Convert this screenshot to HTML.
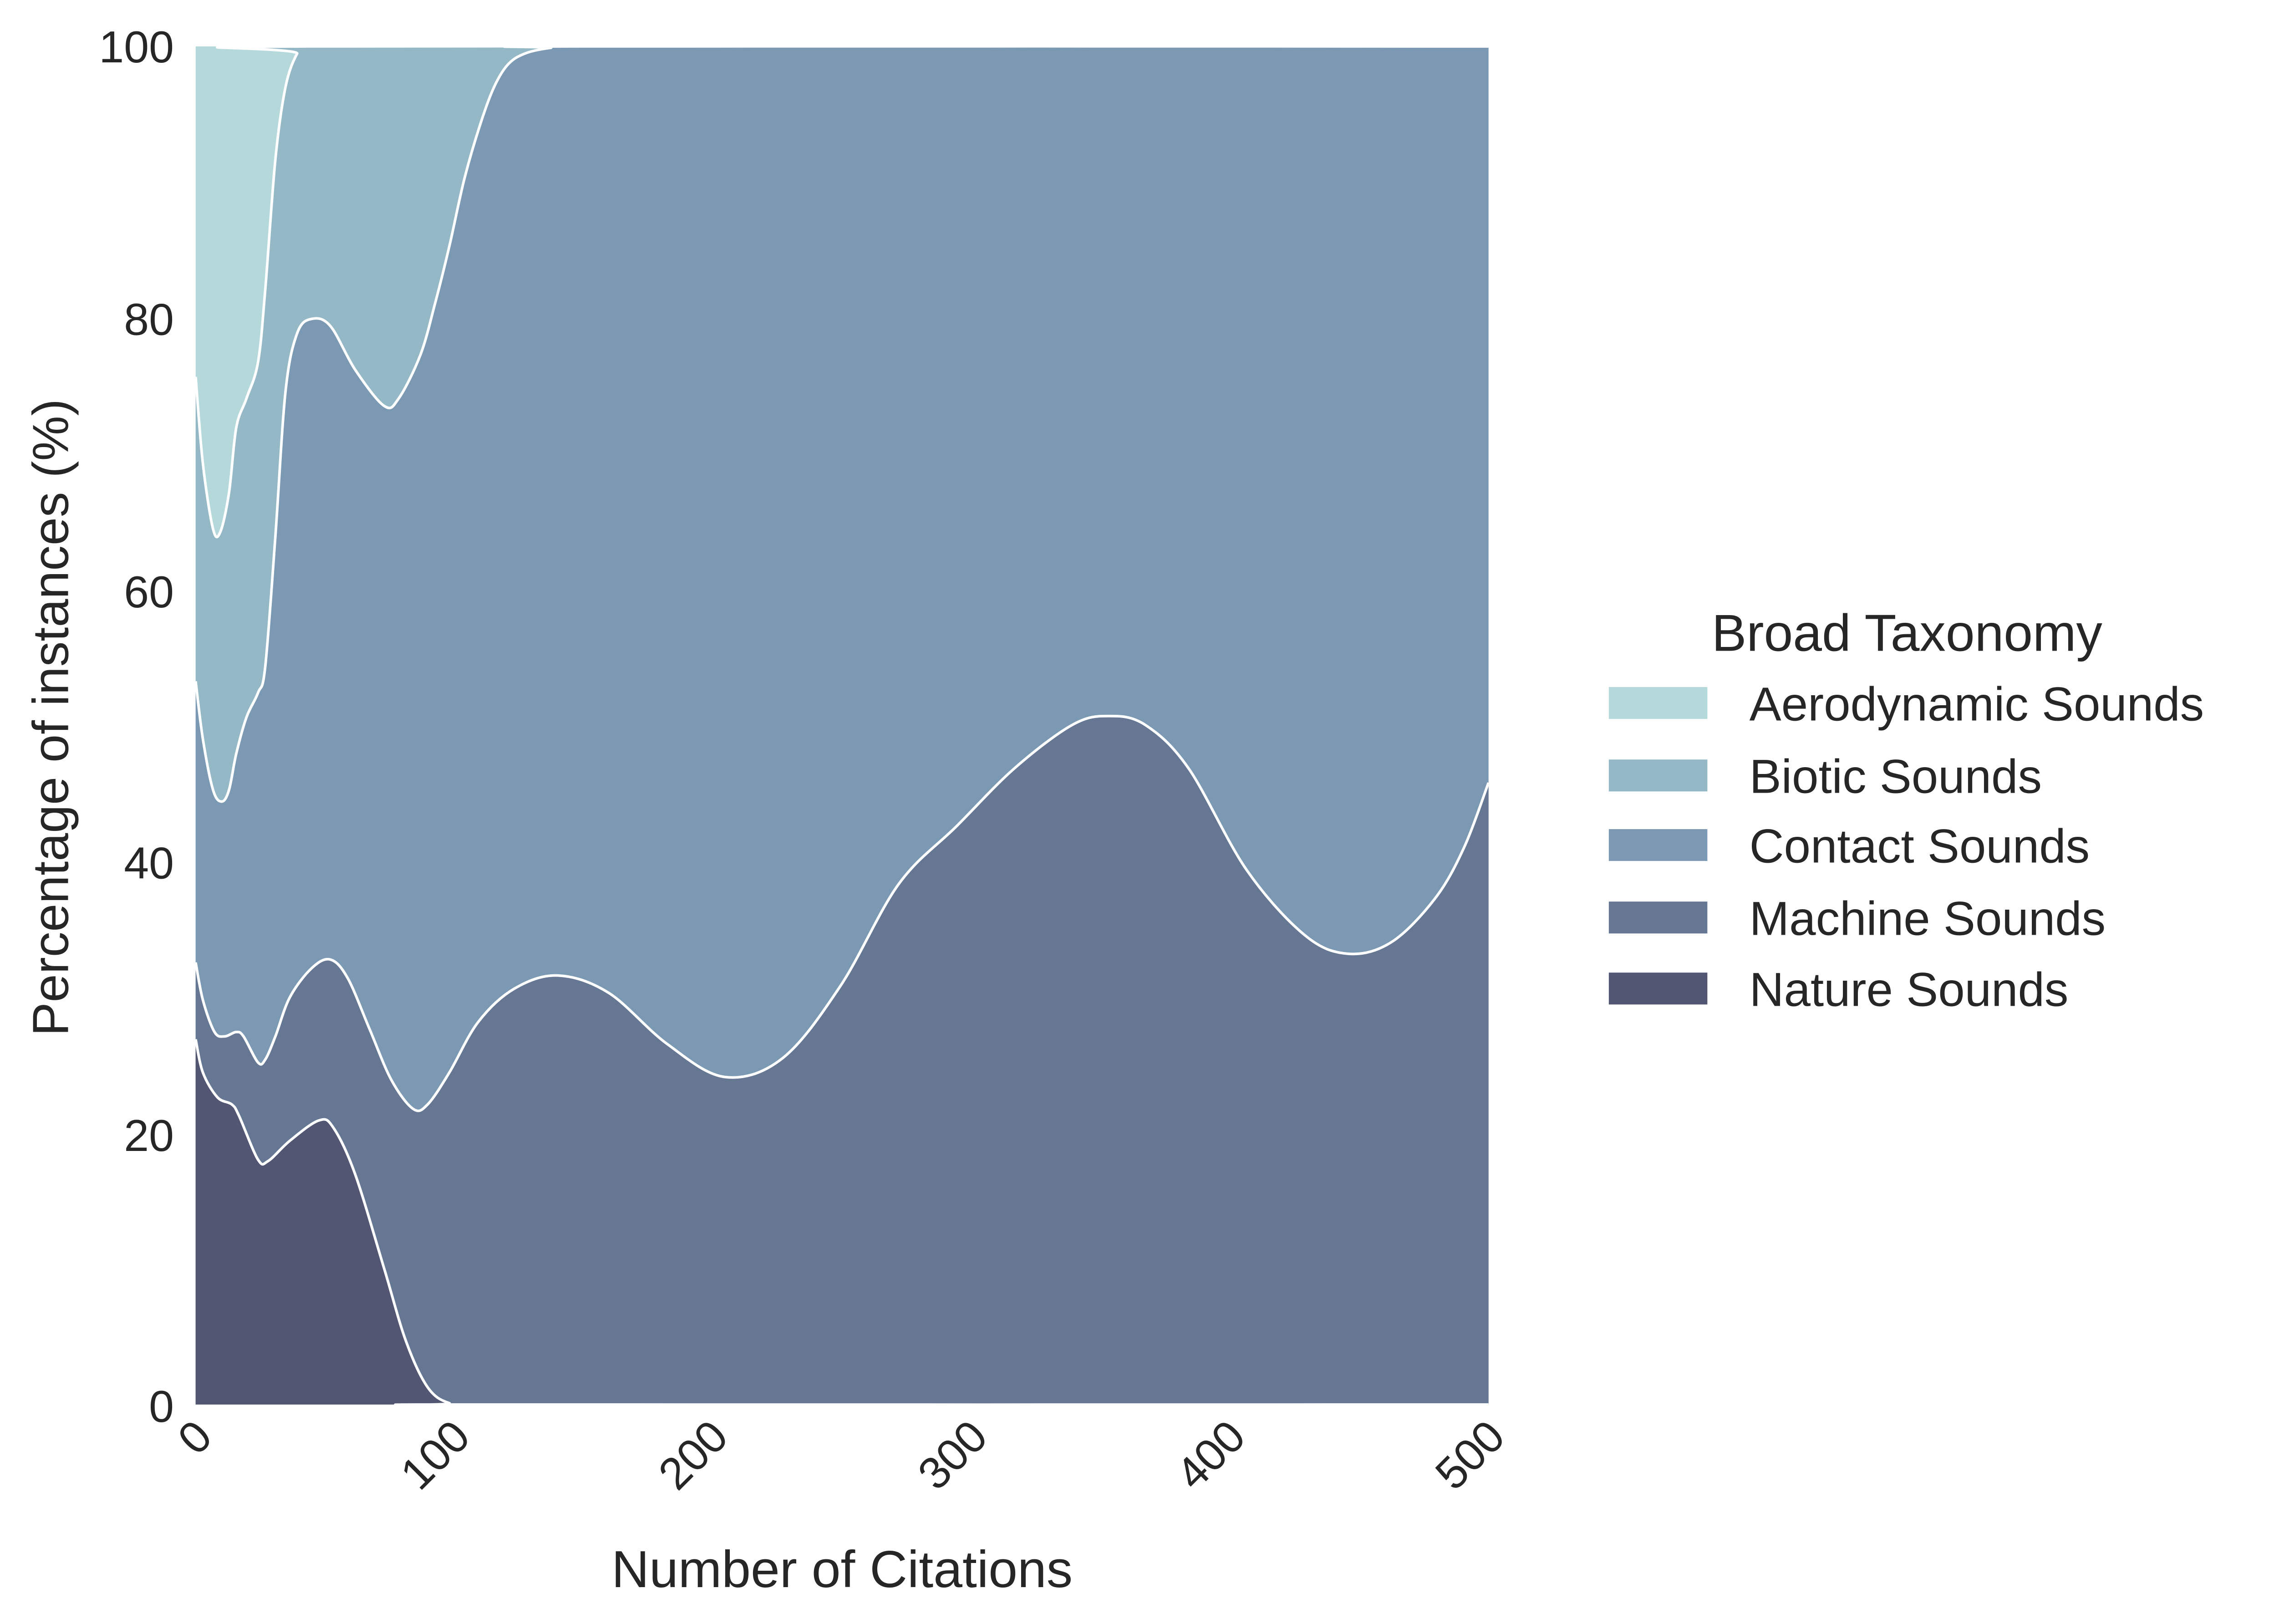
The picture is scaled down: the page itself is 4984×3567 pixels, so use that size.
<!DOCTYPE html>
<html><head><meta charset="utf-8"><style>html,body{margin:0;padding:0;background:#fff}svg{display:block}</style></head>
<body>
<svg id="s" width="4984" height="3567" viewBox="0 0 1565.5 1120.4" xmlns="http://www.w3.org/2000/svg" font-family="Liberation Sans, DejaVu Sans, sans-serif">
<rect width="1570" height="1125" fill="#fff"/>
<rect x="135" y="32" width="892" height="937" fill="#b5d8da"/>
<g stroke="#fff" stroke-width="1.8" stroke-linejoin="round" id="areas">
<path fill="#95b8c7" data-p="135,260 140,320 147,365 152,367 158,340 163,295 170,275 178,250 183,200 190,110 197,60 205,37 212,32 1027,32"/>
<path fill="#7b99b2" data-p="135,470 140,510 147,545 153,553 158,545 163,520 170,495 178,478 183,460 190,370 197,270 205,230 215,220 228,225 245,255 265,280 275,275 290,245 300,210 310,170 320,125 330,90 340,62 350,45 362,37 380,33 400,32 1027,32"/>
<path fill="#667793" data-p="135,664 140,690 148,712 155,715 163,712 168,715 178,733 183,731 190,715 200,688 215,668 228,662 240,675 255,710 270,745 285,765 295,762 310,740 330,705 355,682 385,673 420,685 460,720 500,743 540,730 580,680 620,610 660,570 700,530 740,500 765,494 790,500 820,530 860,600 900,645 930,658 960,650 990,620 1010,585 1027,540"/>
<path fill="#525672" data-p="135,717 140,740 150,757 160,762 165,770 178,800 185,801 200,787 220,773 230,778 245,810 265,875 280,925 295,957 310,968 330,969 1027,969"/>
</g>
<rect x="134" y="969" width="894" height="3" fill="#fff"/>
<g font-size="31" fill="#262626" text-anchor="end">
<text x="120" y="43">100</text><text x="120" y="231">80</text><text x="120" y="419">60</text>
<text x="120" y="606">40</text><text x="120" y="794">20</text><text x="120" y="981">0</text>
</g>
<g font-size="31" fill="#262626" text-anchor="end">
<text transform="translate(148,993) rotate(-45)">0</text>
<text transform="translate(326,993) rotate(-45)">100</text>
<text transform="translate(504,993) rotate(-45)">200</text>
<text transform="translate(683,993) rotate(-45)">300</text>
<text transform="translate(861,993) rotate(-45)">400</text>
<text transform="translate(1040,993) rotate(-45)">500</text>
</g>
<text x="581" y="1095" font-size="36" fill="#262626" text-anchor="middle">Number of Citations</text>
<text transform="translate(47,495) rotate(-90)" font-size="35" fill="#262626" text-anchor="middle">Percentage of instances (%)</text>
<text x="1181" y="449" font-size="36" fill="#262626">Broad Taxonomy</text>
<rect x="1110" y="474" width="68" height="22" fill="#b5d8da"/>
<rect x="1110" y="524" width="68" height="22" fill="#95b8c7"/>
<rect x="1110" y="572" width="68" height="22" fill="#7b99b2"/>
<rect x="1110" y="622" width="68" height="22" fill="#667793"/>
<rect x="1110" y="671" width="68" height="22" fill="#525672"/>
<g font-size="33" fill="#262626">
<text x="1207" y="497">Aerodynamic Sounds</text>
<text x="1207" y="547">Biotic Sounds</text>
<text x="1207" y="595">Contact Sounds</text>
<text x="1207" y="645">Machine Sounds</text>
<text x="1207" y="694">Nature Sounds</text>
</g>
</svg>
<script>
document.querySelectorAll('#areas path').forEach(function(el){
  var p=el.getAttribute('data-p').trim().split(/\s+/).map(function(s){return s.split(',').map(Number);});
  var d='M'+p[0][0]+','+p[0][1];
  for(var i=0;i<p.length-1;i++){
    var p0=p[Math.max(i-1,0)],p1=p[i],p2=p[i+1],p3=p[Math.min(i+2,p.length-1)];
    var c1x=p1[0]+(p2[0]-p0[0])/6,c1y=p1[1]+(p2[1]-p0[1])/6;
    var c2x=p2[0]-(p3[0]-p1[0])/6,c2y=p2[1]-(p3[1]-p1[1])/6;
    d+=' C'+c1x.toFixed(2)+','+c1y.toFixed(2)+' '+c2x.toFixed(2)+','+c2y.toFixed(2)+' '+p2[0]+','+p2[1];
  }
  el.setAttribute('d',d+' L1027,969 L135,969 Z');
  el.setAttribute('stroke','none');
  var line=document.createElementNS('http://www.w3.org/2000/svg','path');
  line.setAttribute('d',d);line.setAttribute('fill','none');
  el.parentNode.appendChild(line);
});
</script>
</body></html>
